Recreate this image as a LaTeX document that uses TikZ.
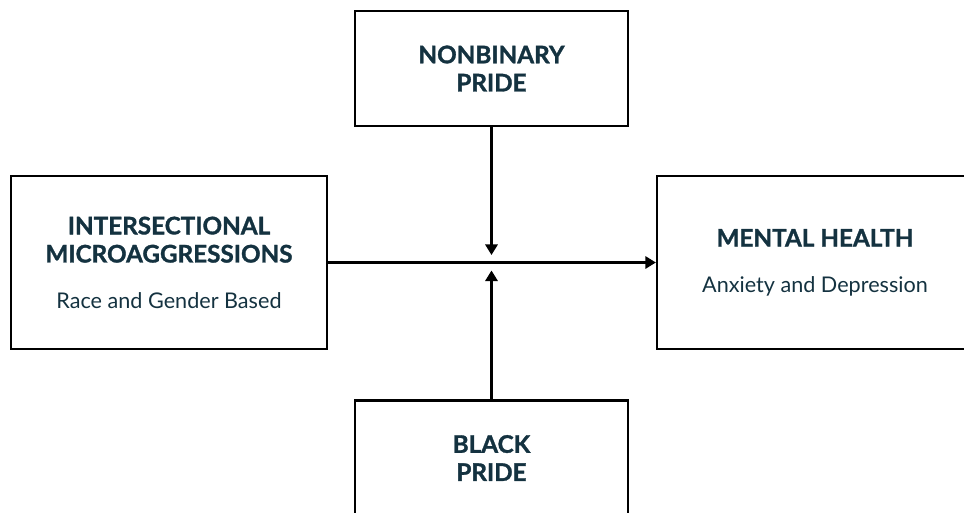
\documentclass[tikz,border=0pt]{standalone}
\usepackage{fontspec}
\setmainfont{Lato}[BoldFeatures={FakeBold=1.3}]
\usetikzlibrary{arrows.meta}
\definecolor{inkblue}{RGB}{20,50,64}
\newcommand{\subline}[1]{{\normalfont\fontsize{12.3}{14}\selectfont #1}}
\tikzset{
  box/.style={draw=black,line width=1.3pt,align=center,text=inkblue,
    font=\bfseries\fontsize{13.8}{16}\selectfont},
  smallbox/.style={box,minimum width=5.46cm,minimum height=2.3cm},
  bigbox/.style={box,minimum width=6.32cm,minimum height=3.46cm},
  arr/.style={line width=1.3pt,-{Triangle[width=7pt,length=6pt]}}
}
\begin{document}
\begin{tikzpicture}
\useasboundingbox (0,0) rectangle (19.28,-10.24);
\clip (0,0) rectangle (19.28,-10.24);
\node[smallbox] (np) at (9.83,-1.37) {NONBINARY\\PRIDE};
\node[smallbox] (bp) at (9.83,-9.16) {BLACK\\PRIDE};
\node[bigbox] (im) at (3.38,-5.25) {INTERSECTIONAL\\MICROAGGRESSIONS\\[10pt]\subline{Race and Gender Based}};
\node[bigbox] (mh) at (16.30,-5.25) {MENTAL HEALTH\\[10pt]\subline{Anxiety and Depression}};
\coordinate (jn) at (9.83,-5.10);
\coordinate (js) at (9.83,-5.41);
\draw[arr] (im) -- (mh);
\draw[arr] (np) -- (jn);
\draw[arr] (bp) -- (js);
\end{tikzpicture}
\end{document}
